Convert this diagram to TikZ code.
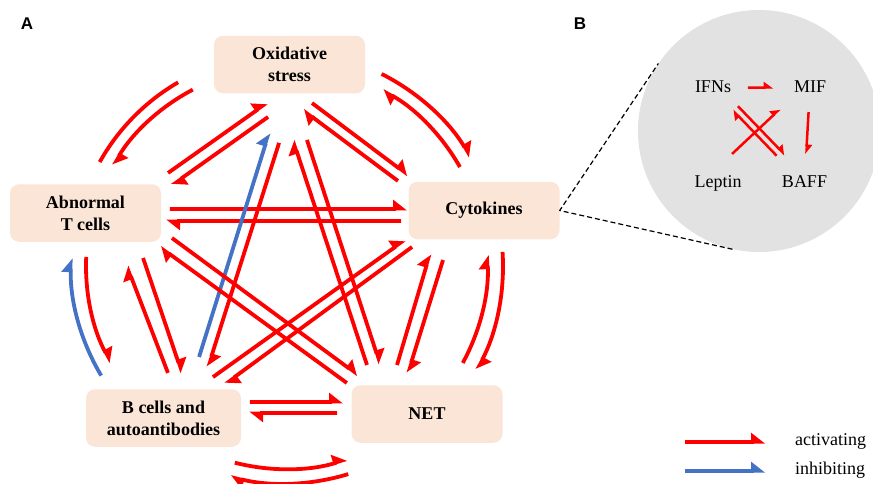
\documentclass[tikz,border=0pt]{standalone}
\usepackage{fontspec}
\setmainfont{Liberation Serif}
\newfontfamily\panelfont{Liberation Sans}
\usetikzlibrary{arrows.meta,calc}
\definecolor{actred}{RGB}{255,0,0}
\definecolor{inhblue}{RGB}{68,114,196}
\definecolor{boxfill}{RGB}{251,229,214}
\definecolor{lensgray}{RGB}{226,226,226}
\tikzset{
  box/.style={rounded corners=9pt,fill=boxfill,minimum width=151pt,minimum height=57.5pt,
    align=center,font=\bfseries\fontsize{18}{22}\selectfont},
  act/.style={actred,line width=3.8pt,-{Triangle[harpoon,length=12pt,width=18pt]}},
  inh/.style={act,inhblue},
  actflat/.style={actred,line width=3.8pt},
  actsmall/.style={actred,line width=2.5pt,-{Triangle[harpoon,length=8pt,width=11pt]}},
  gene/.style={font=\fontsize{18}{22}\selectfont,text height=13pt,text depth=4pt},
  panel/.style={font=\panelfont\bfseries\fontsize{17}{17}\selectfont},
}

\begin{document}
\begin{tikzpicture}[x=1pt,y=-1pt,line join=round]
\useasboundingbox (0,0) rectangle (873,483);
\clip (0,0) rectangle (873,483);

% panel B
\node[circle,fill=lensgray,minimum size=242pt,inner sep=0pt] (lens) at (759,131) {};
\node[panel] (labA) at (27,24) {A};
\node[panel] (labB) at (580,24) {B};

% the five boxes
\node[box] (ox) at (289.5,64.5) {Oxidative\\stress};
\node[box] (tc) at (85.5,213) {Abnormal\\T cells};
\node[box] (cyt) at (484,210.5) {Cytokines};
\node[box,minimum width=155pt] (bc) at (163.5,418) {B cells and\\autoantibodies};
\node[box] (net) at (427,414) {NET};
\coordinate (mid) at (285,266);

% outer ring
\draw[actflat] ([shift={(120.2:212.5pt)}]mid) arc[start angle=120.2,end angle=150.7,radius=212.5pt];
\draw[act] ([shift={(117.6:199pt)}]mid) arc[start angle=117.6,end angle=149.6,radius=199pt];
\draw[act] ([shift={(63.3:215pt)}]mid) arc[start angle=63.3,end angle=30.5,radius=215pt];
\draw[act] ([shift={(29.5:201pt)}]mid) arc[start angle=29.5,end angle=60.9,radius=201pt];
\draw[act] ([shift={(-28.6:202.5pt)}]mid) arc[start angle=-28.6,end angle=3.1,radius=202.5pt];
\draw[act] ([shift={(3.7:218pt)}]mid) arc[start angle=3.7,end angle=-28.4,radius=218pt];
\draw[act] ([shift={(-104.3:203pt)}]mid) arc[start angle=-104.3,end angle=-72.3,radius=203pt];
\draw[act] ([shift={(-73.1:217.5pt)}]mid) arc[start angle=-73.1,end angle=-104.5,radius=217.5pt];
\draw[inh] ([shift={(210.8:214pt)}]mid) arc[start angle=210.8,end angle=177.9,radius=214pt];
\draw[act] ([shift={(177.4:199pt)}]mid) arc[start angle=177.4,end angle=209,radius=199pt];

% straight pairs
\draw[act] ($(ox)!0.642!(tc)!16.2pt!90:(tc)$) -- ($(ox)!0.162!(tc)!17.9pt!90:(tc)$);
\draw[act] ($(ox)!0.191!(tc)!29.8pt!90:(tc)$) -- ($(ox)!0.658!(tc)!28.3pt!90:(tc)$);
\draw[act] ($(ox)!0.169!(cyt)!17.3pt!270:(cyt)$) -- ($(ox)!0.663!(cyt)!17.3pt!270:(cyt)$);
\draw[act] ($(ox)!0.644!(cyt)!28pt!270:(cyt)$) -- ($(ox)!0.157!(cyt)!28.3pt!270:(cyt)$);
\draw[act] ($(tc)!0.212!(cyt)!3.5pt!90:(cyt)$) -- ($(tc)!0.807!(cyt)!2pt!90:(cyt)$);
\draw[act] ($(tc)!0.792!(cyt)!10pt!270:(cyt)$) -- ($(tc)!0.202!(cyt)!8.5pt!270:(cyt)$);
\draw[act] ($(ox)!0.206!(bc)!16.5pt!90:(bc)$) -- ($(ox)!0.832!(bc)!24.8pt!90:(bc)$);
\draw[inh] ($(ox)!0.815!(bc)!13pt!90:(bc)$) -- ($(ox)!0.19!(bc)!3.7pt!90:(bc)$);
\draw[act] ($(ox)!0.82!(net)!37.9pt!270:(net)$) -- ($(ox)!0.191!(net)!24.4pt!270:(net)$);
\draw[act] ($(ox)!0.204!(net)!11.4pt!270:(net)$) -- ($(ox)!0.83!(net)!25.4pt!270:(net)$);
\draw[act] ($(tc)!0.22!(net)!22.3pt!90:(net)$) -- ($(tc)!0.8!(net)!1.4pt!270:(net)$);
\draw[act] ($(tc)!0.786!(net)!13.9pt!270:(net)$) -- ($(tc)!0.206!(net)!8.5pt!90:(net)$);
\draw[act] ($(cyt)!0.833!(bc)!7.5pt!270:(bc)$) -- ($(cyt)!0.216!(bc)!18.2pt!270:(bc)$);
\draw[act] ($(cyt)!0.21!(bc)!8.5pt!270:(bc)$) -- ($(cyt)!0.816!(bc)!4.9pt!90:(bc)$);
\draw[act] ($(cyt)!0.278!(net)!26.1pt!270:(net)$) -- ($(cyt)!0.837!(net)!29.4pt!270:(net)$);
\draw[act] ($(cyt)!0.815!(net)!42.1pt!270:(net)$) -- ($(cyt)!0.267!(net)!40.3pt!270:(net)$);
\draw[act] ($(bc)!0.185!(tc)!20.2pt!270:(tc)$) -- ($(bc)!0.707!(tc)!19.9pt!270:(tc)$);
\draw[act] ($(bc)!0.715!(tc)!37.8pt!270:(tc)$) -- ($(bc)!0.162!(tc)!33.3pt!270:(tc)$);
\draw[act] ($(bc)!0.329!(net)!14.7pt!90:(net)$) -- ($(bc)!0.682!(net)!13.3pt!90:(net)$);
\draw[act] ($(bc)!0.659!(net)!2.4pt!90:(net)$) -- ($(bc)!0.325!(net)!3.7pt!90:(net)$);

% zoom on cytokines
\draw[line width=1.2pt,dash pattern=on 5pt off 3pt] (tangent cs:node=lens,point={(cyt.east)},solution=1) -- (cyt.east)
  -- (tangent cs:node=lens,point={(cyt.east)},solution=2);
\node[gene] (ifn) at (713,87.5) {IFNs};
\node[gene] (mif) at (810,87.5) {MIF};
\node[gene] (lep) at (718,182.5) {Leptin};
\node[gene] (baff) at (804.5,182.5) {BAFF};
\draw[actsmall] ($(ifn)!0.36!(mif)$) -- ($(ifn)!0.62!(mif)$);
\draw[actsmall] ($(mif)!0.258!(baff)$) -- ($(mif)!0.70!(baff)$);
\draw[actsmall] ($(lep)!0.229!(mif)!9.8pt!90:(mif)$) -- ($(lep)!0.725!(mif)!6.6pt!90:(mif)$);
\draw[actsmall] ($(ifn)!0.233!(baff)!5pt!90:(baff)$) -- ($(ifn)!0.747!(baff)!5pt!90:(baff)$);
\draw[actsmall] ($(ifn)!0.707!(baff)!1.5pt!270:(baff)$) -- ($(ifn)!0.227!(baff)!1.5pt!270:(baff)$);

% legend
\node[gene,anchor=base west,inner sep=0pt,text height=,text depth=] (lact) at (795,445) {activating};
\node[gene,anchor=base west,inner sep=0pt,text height=,text depth=] (linh) at (795,474) {inhibiting};
\draw[act] ($(lact.base west)+(-110,-3)$) -- ($(lact.base west)+(-30,-3)$);
\draw[inh] ($(linh.base west)+(-110,-3)$) -- ($(linh.base west)+(-30,-3)$);
\end{tikzpicture}
\end{document}
